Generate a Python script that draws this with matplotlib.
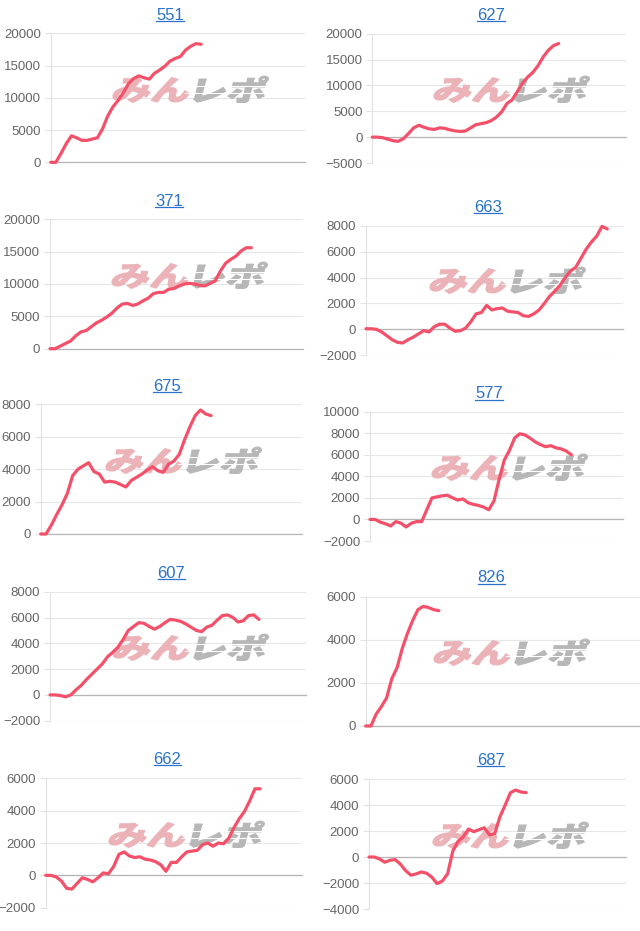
import matplotlib
matplotlib.use("Agg")
import matplotlib.pyplot as plt
import numpy as np
from matplotlib.font_manager import FontProperties
from matplotlib.textpath import TextPath
from matplotlib.patches import PathPatch
from matplotlib.transforms import Affine2D, IdentityTransform
from matplotlib.lines import Line2D

W, H = 640, 931
N_SLOTS = 50

names = ["551", "627", "371", "663", "675", "577", "607", "826", "662", "687"]

v551 = [0, 0, 1400, 2900, 4100, 3800, 3400, 3400, 3600, 3800, 5200, 7200, 8600, 9600,
        10800, 12200, 13000, 13400, 13100, 12900, 13800, 14300, 14900, 15700, 16100,
        16400, 17400, 18000, 18400, 18300]
v627 = [0, 0, -100, -400, -700, -800, -300, 700, 1800, 2300, 1900, 1600, 1500, 1800,
        1700, 1400, 1200, 1100, 1200, 1800, 2400, 2600, 2800, 3200, 3900, 4900, 6500,
        7200, 8800, 10400, 11600, 12500, 13800, 15500, 16800, 17700, 18100]
v371 = [0, 0, 400, 800, 1200, 2000, 2600, 2800, 3400, 4000, 4400, 4900, 5500, 6300,
        6900, 7000, 6700, 6900, 7400, 7800, 8500, 8700, 8700, 9200, 9300, 9700, 10000,
        10100, 10000, 9800, 9700, 10100, 10500, 12000, 13200, 13800, 14300, 15100,
        15600, 15600]
v663 = [50, 50, 0, -200, -500, -800, -1000, -1050, -800, -600, -350, -100, -200, 200,
        400, 400, 100, -150, -100, 100, 600, 1200, 1300, 1850, 1500, 1600, 1650, 1400,
        1350, 1300, 1050, 1000, 1200, 1500, 2000, 2550, 2950, 3400, 4000, 4500, 4800,
        5500, 6200, 6750, 7200, 7950, 7750]
v675 = [0, 0, 550, 1200, 1800, 2500, 3600, 4000, 4200, 4400, 3850, 3700, 3200, 3250,
        3200, 3050, 2900, 3300, 3500, 3700, 3950, 4150, 3900, 3800, 4300, 4500, 4900,
        5800, 6600, 7300, 7650, 7400, 7300]
v577 = [0, 0, -250, -400, -600, -200, -350, -700, -350, -200, -200, 900, 2000, 2100,
        2200, 2250, 2000, 1800, 1900, 1550, 1400, 1300, 1150, 900, 1700, 3700, 5500,
        6400, 7550, 7950, 7850, 7550, 7200, 6950, 6750, 6850, 6650, 6550, 6350, 6000]
v607 = [0, 0, -50, -150, 0, 400, 750, 1200, 1600, 2000, 2400, 2950, 3300, 3700, 4300,
        5000, 5300, 5600, 5550, 5300, 5100, 5300, 5600, 5850, 5800, 5700, 5500, 5250,
        5000, 4900, 5250, 5400, 5800, 6150, 6200, 6000, 5650, 5750, 6150, 6200, 5850]
v826 = [0, 0, 550, 900, 1300, 2200, 2700, 3600, 4300, 4900, 5400, 5550, 5500, 5400,
        5350]
v662 = [0, 0, -100, -350, -800, -850, -500, -150, -250, -400, -150, 150, 100, 550,
        1300, 1450, 1200, 1100, 1150, 1000, 950, 850, 650, 250, 800, 800, 1150, 1450,
        1500, 1550, 1900, 2000, 1800, 2000, 1950, 2300, 2950, 3500, 3950, 4600, 5350,
        5350]
v687 = [0, 0, -150, -400, -250, -200, -550, -1050, -1400, -1300, -1150, -1250, -1550,
        -2050, -1850, -1300, 450, 1200, 1550, 2150, 1950, 2100, 2250, 1700, 1800, 3100,
        4000, 4950, 5150, 5000, 4950]

series = [v551, v627, v371, v663, v675, v577, v607, v826, v662, v687]
y_min = [0, -5000, 0, -2000, 0, -2000, -2000, 0, -2000, -4000]
y_max = [20000, 20000, 20000, 8000, 8000, 10000, 8000, 6000, 6000, 6000]
y_step = [5000, 5000, 5000, 2000, 2000, 2000, 2000, 2000, 2000, 2000]

# panel layout in pixels (top-origin): left, right, top, bottom, title x, title y
layout = [
    (50.7, 305, 33.3, 162.3, 170, 15),
    (372.3, 626, 33.7, 163, 491, 15),
    (50, 303, 219.3, 348.7, 169, 201.5),
    (366, 623, 225.7, 355.3, 488, 207.5),
    (40.7, 301.7, 404.3, 534, 167, 386.5),
    (370, 623, 411.7, 541, 489, 394),
    (50, 306, 591.7, 720.7, 171.5, 573),
    (365.7, 640, 596.7, 726, 491.5, 578),
    (45.7, 302, 778.3, 907.7, 167.5, 759),
    (369, 625.7, 779, 909, 490.5, 760.5),
]
# watermark centre (pixels, top-origin)
wm_pos = [(187, 90), (508, 90), (186, 276), (504, 281), (180, 461), (506, 468),
          (187, 648), (508, 653), (183, 835), (507, 836)]

LINE = "#f5506a"
LINK = "#2a72cc"
TICK_FONT = ["Liberation Sans", "DejaVu Sans"]

fig = plt.figure(figsize=(6.4, 9.31), dpi=100)
fig.patch.set_facecolor("white")

fp = FontProperties(family="Noto Sans CJK JP", weight="black")


def watermark(ax, cx, cy):
    size = 28
    p1 = TextPath((0, 0), "みん", size=size, prop=fp)
    p2 = TextPath((0, 0), "レポ", size=size, prop=fp)
    e1, e2 = p1.get_extents(), p2.get_extents()
    sx, gap = 1.4, 6
    w1 = e1.width * sx
    w2 = e2.width * sx
    total = w1 + gap + w2
    x0 = cx - total / 2
    ybase = (H - cy) - e1.height / 2
    t1 = (Affine2D().translate(-e1.x0, -e1.y0).scale(sx, 1).skew_deg(14, 0)
          .translate(x0, ybase))
    t2 = (Affine2D().translate(-e2.x0, -e2.y0).scale(sx, 1).skew_deg(14, 0)
          .translate(x0 + w1 + gap, ybase))
    a = PathPatch(p1, transform=t1 + IdentityTransform(), facecolor="#ebb3b8",
                  edgecolor="#ebb3b8", lw=0.8, joinstyle="round", zorder=1.6,
                  clip_on=False)
    b = PathPatch(p2, transform=t2 + IdentityTransform(), facecolor="#b7b7b7",
                  edgecolor="#b7b7b7", lw=0.8, joinstyle="round", zorder=1.6,
                  clip_on=False)
    ax.add_patch(a)
    ax.add_patch(b)
    bx0 = x0 + w1 + gap - 8
    bx1 = bx0 + w2 + 24
    for fy in (0.36, 0.64):
        yy = ybase + fy * e2.height
        ln = Line2D([bx0, bx1], [yy, yy], transform=IdentityTransform(),
                    color="white", lw=0.8, zorder=1.7)
        ax.add_line(ln)


titles = []
for i, name in enumerate(names):
    l, r, t, b, tx, ty = layout[i]
    ax = fig.add_axes([l / W, 1 - b / H, (r - l) / W, (b - t) / H])
    vals = series[i]
    x = np.arange(len(vals))
    ax.plot(x, vals, color=LINE, lw=2.3, solid_joinstyle="round",
            solid_capstyle="round", zorder=3, clip_on=False)
    if name == "826":
        ax.set_xlim(0, 52.5)
    else:
        ax.set_xlim(0, N_SLOTS - 1)
    ax.set_ylim(y_min[i], y_max[i])
    ax.set_yticks(np.arange(y_min[i], y_max[i] + 1, y_step[i]))
    ax.set_xticks([])
    for s in ("top", "right", "bottom"):
        ax.spines[s].set_visible(False)
    ax.spines["left"].set_color("#e2e2e2")
    ax.spines["left"].set_linewidth(0.8)
    ax.yaxis.grid(True, color="#e6e6e6", lw=0.8, zorder=1)
    ax.set_axisbelow(True)
    ax.axhline(0, color="#b5b5b5", lw=0.9, zorder=1.5, clip_on=False)
    ax.tick_params(axis="y", length=4, width=0.8, color="#e2e2e2",
                   labelcolor="#666666", labelsize=9.5, pad=3)
    for lab in ax.get_yticklabels():
        lab.set_family(TICK_FONT)
    ax.patch.set_alpha(0)
    watermark(ax, *wm_pos[i])
    titles.append(fig.text(tx / W, 1 - ty / H, name, ha="center", va="center",
                           color=LINK, fontsize=12, family=TICK_FONT))

# underline the titles like links
fig.canvas.draw()
inv = fig.transFigure.inverted()
for ttl in titles:
    bb = ttl.get_window_extent()
    (x0, y0), (x1, _) = inv.transform([(bb.x0, bb.y0 + 1.8), (bb.x1, bb.y0 + 1.8)])
    fig.add_artist(Line2D([x0, x1], [y0, y0], transform=fig.transFigure,
                          color=LINK, lw=0.9))

fig.savefig("out.png", dpi=100)
